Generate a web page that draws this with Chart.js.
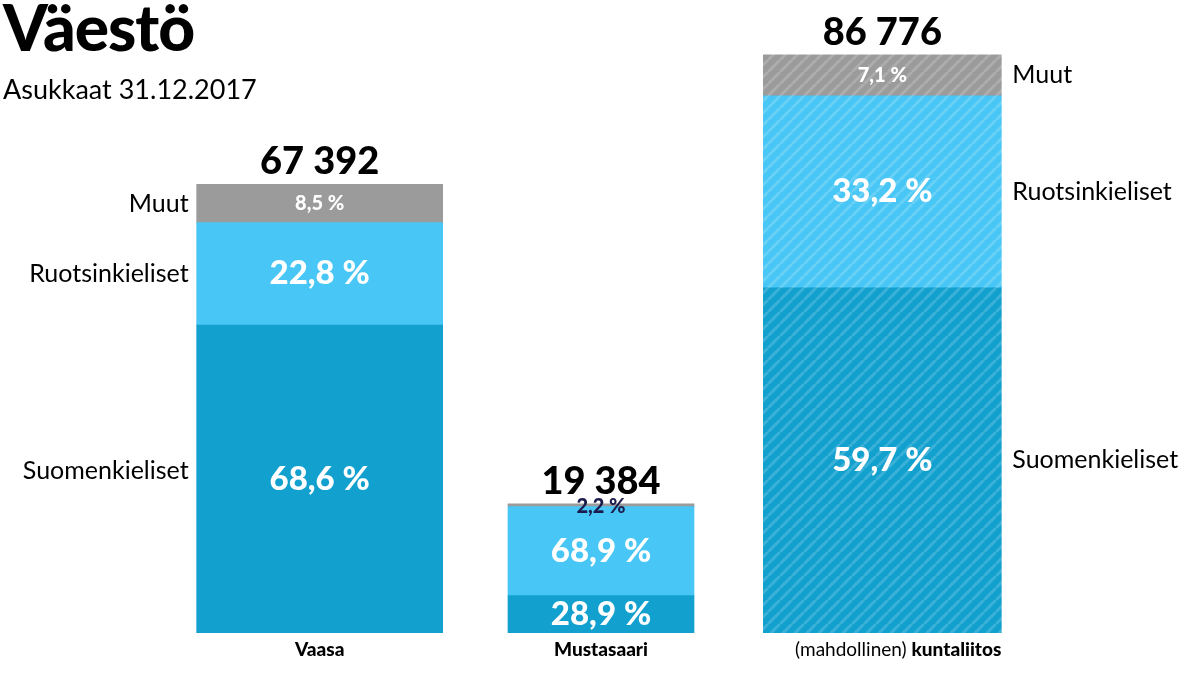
<!DOCTYPE html>
<html><head><meta charset="utf-8">
<script src="https://cdn.jsdelivr.net/npm/chart.js@4"></script>
<style>
body{margin:0;background:#fff;font-family:Lato,sans-serif;}
#wrap{position:relative;width:1198px;height:674px;}
h1{position:absolute;left:3px;top:-12px;margin:0;font-size:64px;font-weight:900;color:#000;letter-spacing:-1px;}
.sub{position:absolute;left:3px;top:72px;font-size:27px;color:#000;}
canvas{position:absolute;left:0;top:0;}
</style></head><body>
<div id="wrap"><canvas id="c" width="1198" height="674"></canvas>
<h1>Väestö</h1><div class="sub">Asukkaat 31.12.2017</div></div>
<script>
const places = ['Vaasa', 'Mustasaari', 'kuntaliitos'];
const totals = [67392, 19384, 86776];
const series = ['Suomenkieliset', 'Ruotsinkieliset', 'Muut'];
const shares = [
    [68.6, 22.8, 8.5],
    [28.9, 68.9, 2.2],
    [59.7, 33.2, 7.1]
];
const widths = [246, 186, 238];
const colors = ['#12a0cf', '#48c6f5', '#9b9b9b'];

function stripes(base) {
    const p = document.createElement('canvas');
    p.width = 12; p.height = 12;
    const g = p.getContext('2d');
    g.fillStyle = base; g.fillRect(0, 0, 12, 12);
    g.strokeStyle = 'rgba(255,255,255,0.18)'; g.lineWidth = 3;
    for (let k = -12; k <= 24; k += 12) {
        g.beginPath(); g.moveTo(k, 12); g.lineTo(k + 12, 0); g.stroke();
    }
    return g.createPattern(p, 'repeat');
}

const datasets = [];
places.forEach((p, b) => {
    series.forEach((s, i) => {
        const data = [null, null, null];
        data[b] = totals[b] * shares[b][i] / 100;
        datasets.push({
            label: s, data: data, bar: b, seg: i,
            backgroundColor: b === 2 ? stripes(colors[i]) : colors[i],
            barThickness: widths[b], stack: 'a', borderWidth: 0
        });
    });
});

const labels = {
    id: 'labels',
    afterDatasetsDraw(chart) {
        const c = chart.ctx;
        c.save();
        c.textBaseline = 'middle';
        chart.data.datasets.forEach((ds, di) => {
            const el = chart.getDatasetMeta(di).data[ds.bar];
            const h = el.base - el.y;
            const share = shares[ds.bar][ds.seg];
            const pct = share.toFixed(1).replace('.', ',') + ' %';
            c.textAlign = 'center';
            if (ds.bar === 1 && ds.seg === 2) {
                c.fillStyle = '#1b1b4d'; c.font = '900 20px Lato';
                c.fillText(pct, el.x, el.y + 3);
            } else {
                c.fillStyle = '#fff';
                c.font = (share < 10 ? '900 20px' : '900 33px') + ' Lato';
                c.fillText(pct, el.x, el.y + h / 2);
            }
            c.fillStyle = '#000'; c.font = '25px Lato';
            if (ds.bar === 0) {
                c.textAlign = 'right';
                c.fillText(ds.label, el.x - el.width / 2 - 8, el.y + h / 2 - (ds.seg === 0 ? 8 : 0));
            }
            if (ds.bar === 2) {
                c.textAlign = 'left';
                c.fillText(ds.label, el.x + el.width / 2 + 11, el.y + h / 2);
            }
            if (ds.seg === 2) {
                c.textAlign = 'center'; c.font = '900 38px Lato';
                c.textBaseline = 'alphabetic';
                c.fillText(totals[ds.bar].toLocaleString('fi-FI').replace(/\s/g, ' '), el.x, el.y - 10);
                c.textBaseline = 'middle';
                c.font = '900 19px Lato';
                if (ds.bar === 2) {
                    c.textAlign = 'right';
                    c.fillText(places[2], el.x + el.width / 2, 650);
                    const w = c.measureText(places[2]).width;
                    c.font = '19px Lato';
                    c.fillText('(mahdollinen) ', el.x + el.width / 2 - w, 650);
                } else {
                    c.fillText(places[ds.bar], el.x, 650);
                }
            }
        });
        c.restore();
    }
};

new Chart(document.getElementById('c'), {
    type: 'bar',
    data: { labels: places, datasets: datasets },
    options: {
        responsive: false, animation: false,
        layout: { padding: { left: 179, right: 175, top: 0, bottom: 41 } },
        scales: {
            x: { display: false, stacked: true },
            y: { display: false, stacked: true, min: 0, max: 95000 }
        },
        plugins: { legend: { display: false }, tooltip: { enabled: false } }
    },
    plugins: [labels]
});
</script>
</body></html>
